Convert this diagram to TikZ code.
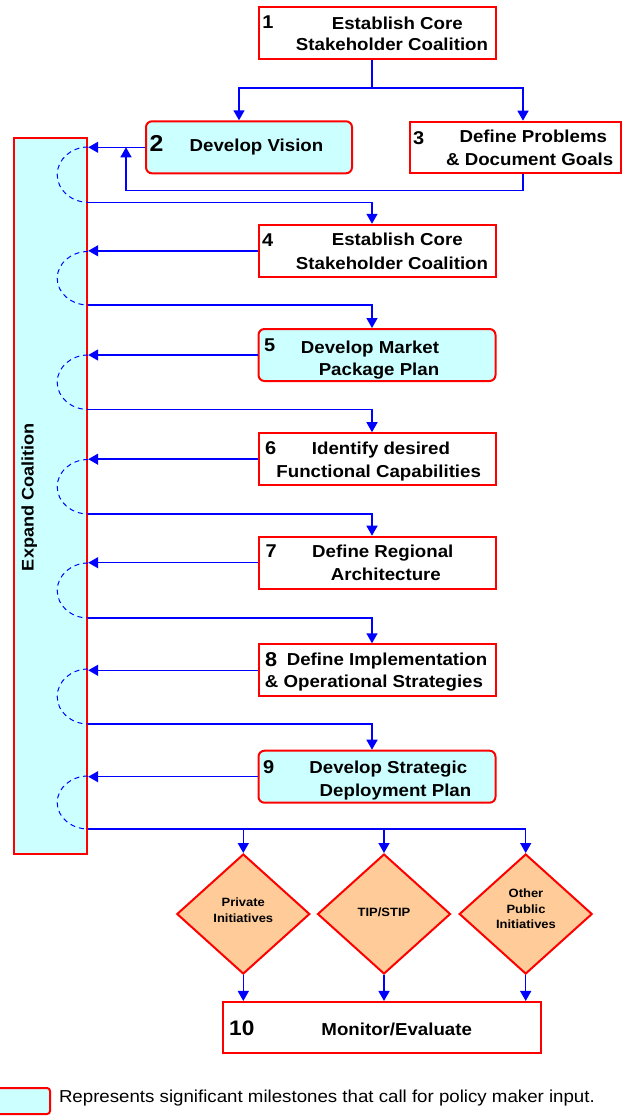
\documentclass[tikz,border=0pt]{standalone}
\usepackage{fontspec}
\setmainfont{Liberation Sans}[FakeStretch=1.08]
\usetikzlibrary{arrows.meta,shapes.geometric}
\definecolor{cyanfill}{HTML}{CCFFFF}
\definecolor{peach}{HTML}{FFCC99}
\definecolor{lnblue}{HTML}{0000FF}
\definecolor{bred}{HTML}{FF0000}
\begin{document}
\begin{tikzpicture}[x=1pt,y=-1pt,
  stepbox/.style={draw=bred,line width=2pt,fill=white,inner sep=0pt,minimum width=237pt,minimum height=52pt},
  keybox/.style={stepbox,fill=cyanfill,rounded corners=6pt},
  choice/.style={shape=diamond,draw=bred,line width=2pt,fill=peach,inner sep=0pt,minimum width=133pt,minimum height=120pt,aspect=1.108},
  txt/.style={font=\fontsize{17.3}{20}\selectfont\bfseries,inner sep=0pt,text height=12.4pt,text depth=0pt},
  small/.style={font=\fontsize{12}{15}\selectfont\bfseries,inner sep=0pt,text height=8.6pt,text depth=0pt},
  num/.style={font=\fontsize{18.5}{20}\selectfont\bfseries,inner sep=0pt,anchor=north west},
  link/.style={draw=lnblue,line width=1.5pt},
  arr/.style={link,-{Triangle[length=10pt,width=11pt]}},
  loopline/.style={draw=lnblue,line width=1pt,dash pattern=on 5pt off 4pt}]
\useasboundingbox (0,0) rectangle (622,1118);
\fill[white] (0,0) rectangle (622,1118);

% side bar
\node[draw=bred,line width=2pt,fill=cyanfill,minimum width=73pt,minimum height=716pt,inner sep=0pt] (bar) at (50.7,496) {};
\node[font=\fontsize{16.8}{20}\selectfont\bfseries,rotate=90,inner sep=0pt,text height=12pt,text depth=0pt] (expand) at (27.5,497) {Expand Coalition};

% dashed loops
\foreach \ya/\yb in {147/202.3,251.5/305,355/409.5,459.5/514,563/618,669/724,776/829}{
  \pgfmathsetmacro{\ry}{(\yb-\ya)/2}
  \draw[loopline] (bar.east |- 0,\ya) arc[start angle=90,end angle=270,x radius=31pt,y radius=\ry pt];
}

% boxes
\node[stepbox] (b1) at (377,33) {};
\node[keybox,minimum width=206pt] (b2) at (249,147.3) {};
\node[stepbox,minimum width=211pt,minimum height=51pt] (b3) at (515,147.2) {};
\node[stepbox] (b4) at (377,250.8) {};
\node[keybox] (b5) at (377,355) {};
\node[stepbox] (b6) at (377,459.2) {};
\node[stepbox] (b7) at (377,562.7) {};
\node[stepbox] (b8) at (377,670.3) {};
\node[keybox] (b9) at (377,776.7) {};
\node[stepbox,minimum width=318pt,minimum height=51.5pt] (b10) at (382,1027.7) {};
\node[choice] (d1) at (243.3,914) {};
\node[choice] (d2) at (384,914) {};
\node[choice] (d3) at (525.7,914) {};

% numbers
\node[num] (n1) at (262.2,16) {1};
\node[num,font=\fontsize{23}{25}\selectfont\bfseries] (n2) at (149.5,135.7) {2};
\node[num] (n3) at (413,131) {3};
\node[num] (n4) at (262,233.3) {4};
\node[num] (n5) at (264,339) {5};
\node[num] (n6) at (265,441) {6};
\node[num] (n7) at (265.5,544.3) {7};
\node[num,font=\fontsize{20}{22}\selectfont\bfseries] (n8) at (265,652.3) {8};
\node[num] (n9) at (263,760) {9};
\node[num,font=\fontsize{21}{23}\selectfont\bfseries] (n10) at (229,1021) {10};

% texts
\node[txt] (t1a) at (397.3,23) {Establish Core};
\node[txt] (t1b) at (392,44.5) {Stakeholder Coalition};
\node[txt] (t2) at (256.5,145.7) {Develop Vision};
\node[txt] (t3a) at (533.3,136.8) {Define Problems};
\node[txt] (t3b) at (529.7,159.5) {\& Document Goals};
\node[txt] (t4a) at (397.3,239.5) {Establish Core};
\node[txt] (t4b) at (392,263) {Stakeholder Coalition};
\node[txt] (t5a) at (370,347) {Develop Market};
\node[txt] (t5b) at (379,369) {Package Plan};
\node[txt] (t6a) at (381,448.3) {Identify desired};
\node[txt] (t6b) at (378.7,470.8) {Functional Capabilities};
\node[txt] (t7a) at (382.8,551.7) {Define Regional};
\node[txt] (t7b) at (385.8,574.2) {Architecture};
\node[txt] (t8a) at (387,659.5) {Define Implementation};
\node[txt] (t8b) at (374,681) {\& Operational Strategies};
\node[txt] (t9a) at (388.3,767.7) {Develop Strategic};
\node[txt] (t9b) at (395.5,790) {Deployment Plan};
\node[txt] (t10) at (396.7,1029.3) {Monitor/Evaluate};
\node[small] (p1a) at (243.3,902) {Private};
\node[small] (p1b) at (243.3,918.3) {Initiatives};
\node[small] (p2) at (384,912.3) {TIP/STIP};
\node[small] (p3a) at (526,893) {Other};
\node[small] (p3b) at (526,908.7) {Public};
\node[small] (p3c) at (526,924.3) {Initiatives};

% connectors
\coordinate (split1) at (372,88);
\draw[link] ([xshift=-5pt]b1.south) -- (split1);
\draw[arr] (split1) -| ([xshift=-10pt]b2.north);
\draw[arr] (split1) -| ([xshift=8pt]b3.north);
\coordinate (fb) at (126,190.5);
\draw[arr] ([xshift=8pt]b3.south) |- (fb) -- (fb |- b2.west);
\draw[arr] (b2.west) -- (b2.west -| bar.east);
\foreach \b in {b4,b5,b6,b7,b8,b9}{
  \draw[arr] (\b.west) -- (\b.west -| bar.east);
}
\draw[arr] (bar.east |- 0,202.3) -| ([xshift=-5pt]b4.north);
\draw[arr] (bar.east |- 0,305) -| ([xshift=-5pt]b5.north);
\draw[arr] (bar.east |- 0,409.5) -| ([xshift=-5pt]b6.north);
\draw[arr] (bar.east |- 0,514) -| ([xshift=-5pt]b7.north);
\draw[arr] (bar.east |- 0,618) -| ([xshift=-5pt]b8.north);
\draw[arr] (bar.east |- 0,724) -| ([xshift=-5pt]b9.north);
\coordinate (split9) at (bar.east |- 0,829);
\draw[arr] (split9) -| (d3.north);
\draw[arr] (split9 -| d1.north) -- (d1.north);
\draw[arr] (split9 -| d2.north) -- (d2.north);
\foreach \d in {d1,d2,d3}{
  \draw[arr] (\d.south) -- (\d.south |- b10.north);
}

% legend
\node[keybox,minimum width=53pt,minimum height=26pt,rounded corners=3pt] (legbox) at (23.5,1101) {};
\node[font=\fontsize{17.3}{20}\selectfont,anchor=west,inner sep=0pt,text height=12.4pt,text depth=0pt] (legtext) at (58.8,1096) {Represents significant milestones that call for policy maker input.};
\end{tikzpicture}
\end{document}
